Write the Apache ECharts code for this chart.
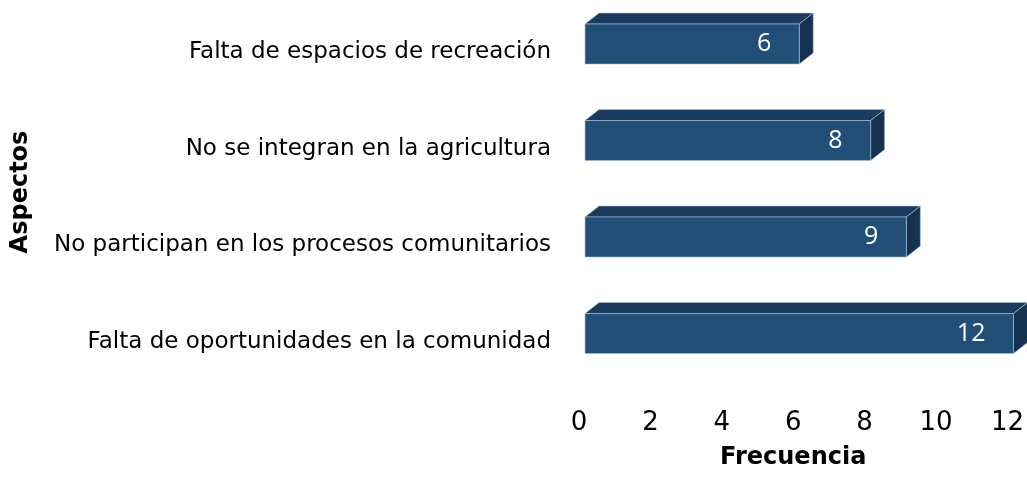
<!DOCTYPE html>
<html>
<head>
<meta charset="utf-8">
<script src="https://cdn.jsdelivr.net/npm/echarts@6/dist/echarts.min.js"></script>
<style>
  html, body { margin: 0; padding: 0; background: #fff; }
  #chart { width: 1027px; height: 477px; }
</style>
</head>
<body>
<div id="chart"></div>
<script>
const aspectos = [
  "Falta de espacios de recreación",
  "No se integran en la agricultura",
  "No participan en los procesos comunitarios",
  "Falta de oportunidades en la comunidad"
];
const frecuencia = [6, 8, 9, 12];
const xTicks = [0, 2, 4, 6, 8, 10, 12];

const font = "'DejaVu Sans', Verdana, sans-serif";
const front = "#214f78";
const top3d = "#1b3b5e";
const side3d = "#163251";
const edge = "rgba(170,195,220,0.6)";

// 3D-ish horizontal bar: front face + top face + right side face
function renderBar(params, api) {
  const cat = api.value(1);
  const val = api.value(0);
  const p0 = api.coord([0, cat]);
  const p1 = api.coord([val, cat]);
  const band = api.size([0, 1])[1];
  const shift = 6;
  const h = band * 0.415;
  const dx = 14, dy = 11;
  const x0 = p0[0] + shift;
  const x1 = p1[0] + shift;
  const yc = p0[1] - band * 0.085;
  const y0 = yc - h / 2, y1 = yc + h / 2;
  return {
    type: "group",
    children: [
      { type: "polygon", shape: { points: [[x0, y0], [x0 + dx, y0 - dy], [x1 + dx, y0 - dy], [x1, y0]] },
        style: { fill: top3d, stroke: edge, lineWidth: 1 } },
      { type: "polygon", shape: { points: [[x1, y0], [x1 + dx, y0 - dy], [x1 + dx, y1 - dy], [x1, y1]] },
        style: { fill: side3d, stroke: edge, lineWidth: 1 } },
      { type: "rect", shape: { x: x0, y: y0, width: x1 - x0, height: h },
        style: { fill: front, stroke: edge, lineWidth: 1 } },
      { type: "text", x: x1 - 28, y: yc,
        style: { text: String(val), fill: "#fff", font: "25px 'Open Sans', 'Noto Sans', sans-serif",
                 align: "right", verticalAlign: "middle" } }
    ]
  };
}

const chart = echarts.init(document.getElementById("chart"), null, { renderer: "canvas" });
chart.setOption({
  animation: false,
  grid: { left: 579, right: 19, top: 4, bottom: 87, containLabel: false },
  xAxis: {
    type: "value",
    min: xTicks[0],
    max: xTicks[xTicks.length - 1],
    interval: 2,
    name: "Frecuencia",
    nameLocation: "middle",
    nameGap: 56,
    nameTextStyle: { fontFamily: font, fontSize: 24, fontWeight: "bold", color: "#000" },
    axisLine: { show: false },
    axisTick: { show: false },
    splitLine: { show: false },
    axisLabel: { margin: 20, fontFamily: font, fontSize: 26, color: "#000" }
  },
  yAxis: {
    type: "category",
    inverse: true,
    data: aspectos,
    name: "Aspectos",
    nameLocation: "middle",
    nameGap: 546,
    nameTextStyle: { fontFamily: font, fontSize: 24, fontWeight: "bold", color: "#000", padding: [0, 0, 0, 10] },
    axisLine: { show: false },
    axisTick: { show: false },
    axisLabel: { margin: 28, fontFamily: font, fontSize: 23, color: "#000" }
  },
  series: [{
    type: "custom",
    renderItem: renderBar,
    encode: { x: 0, y: 1 },
    data: frecuencia.map((v, i) => [v, i]),
    clip: false
  }]
});
</script>
</body>
</html>
